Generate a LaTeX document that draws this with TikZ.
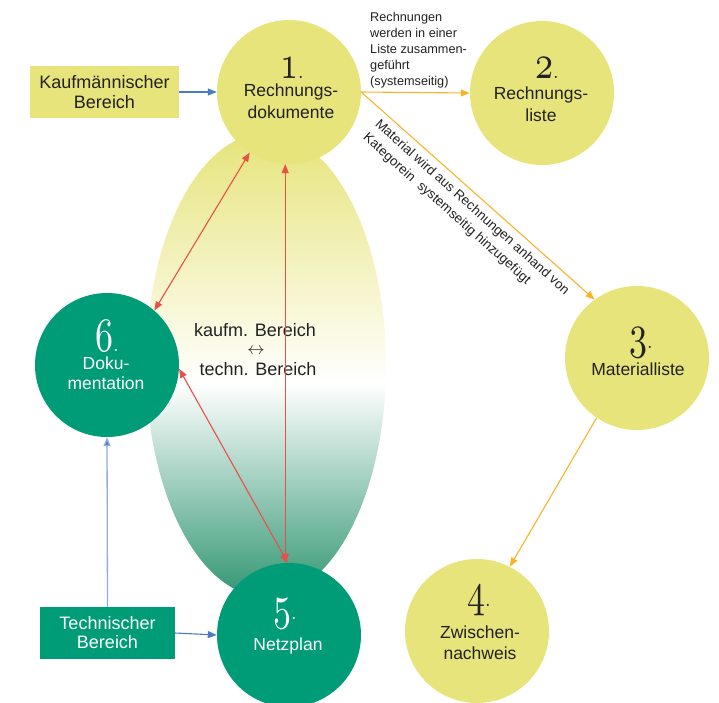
\documentclass[tikz,border=0pt]{standalone}
\usepackage{fontspec}
\setmainfont{Liberation Sans}
\usepackage{graphicx}
\usetikzlibrary{arrows.meta}
\definecolor{ylw}{RGB}{230,228,122}
\definecolor{grn}{RGB}{0,155,119}
\definecolor{grnE}{RGB}{50,150,115}
\definecolor{redA}{RGB}{232,80,74}
\definecolor{orA}{RGB}{247,180,40}
\definecolor{bluA}{RGB}{74,124,196}
\definecolor{bluB}{RGB}{140,174,224}
\definecolor{txt}{RGB}{34,34,34}
\newcommand\onum[1]{\scalebox{3.6}[4.8]{\fontsize{10}{10}\usefont{OML}{cmm}{m}{it}#1}\scalebox{2}{\fontsize{10}{10}\usefont{OML}{cmm}{m}{it}\char58}}
\pgfdeclareverticalshading{ellshade}{100bp}{color(0bp)=(grnE); color(25bp)=(grnE); color(48bp)=(white); color(75bp)=(ylw); color(100bp)=(ylw)}
\begin{document}
\begin{tikzpicture}[x=1pt,y=-1pt,
  ycirc/.style={circle,fill=ylw,minimum size=144pt,inner sep=0pt},
  gcirc/.style={circle,fill=grn,minimum size=144pt,inner sep=0pt},
  numtxt/.style={inner sep=0pt,anchor=base,text=txt},
  wnumtxt/.style={numtxt,text=white},
  lbl/.style={inner sep=0pt,anchor=base,text=txt,font=\fontsize{17.5}{21}\selectfont},
  wlbl/.style={lbl,text=white},
  boxy/.style={rectangle,fill=ylw,inner sep=0pt,align=center,text=txt,font=\fontsize{18}{20}\selectfont},
  boxg/.style={rectangle,fill=grn,inner sep=0pt,align=center,text=white,font=\fontsize{18}{19}\selectfont},
  redarr/.style={draw=redA,line width=1.1pt,{Triangle[length=9pt,width=7pt]}-{Triangle[length=9pt,width=7pt]}},
  orarr/.style={draw=orA,line width=1.1pt,-{Triangle[length=9pt,width=7pt]}},
  bluarr/.style={draw=bluA,line width=1.1pt,-{Triangle[length=9pt,width=7pt]}},
  bluarrB/.style={draw=bluB,line width=1.3pt,-{Triangle[length=9pt,width=7pt,fill=bluA]}},
  small/.style={inner sep=0pt,text=txt,align=left,font=\fontsize{12.7}{16}\selectfont}
]
\useasboundingbox (0,0) rectangle (719,702);
% central shaded ellipse
\shade[shading=ellshade] (266,365) ellipse [x radius=120, y radius=232];

% circles
\node[ycirc] (c1) at (289,92) {};
\node[ycirc] (c2) at (542,93) {};
\node[ycirc] (c3) at (637,358) {};
\node[ycirc] (c4) at (477,631) {};
\node[gcirc] (c6) at (107,365) {};
\node[gcirc] (c5) at (289,635) {};

% numbers
\node[numtxt] (n1) at (292,78) {\onum{1}};
\node[numtxt] (n2) at (547,78) {\onum{2}};
\node[numtxt] (n3) at (641,348) {\onum{3}};
\node[numtxt] (n4) at (479,606) {\onum{4}};
\node[wnumtxt] (n6) at (107,351) {\onum{6}};
\node[wnumtxt] (n5) at (285,619) {\onum{5}};

% circle labels
\node[lbl] (t1a) at (291,96) {Rechnungs-};
\node[lbl] (t1b) at (291,118) {dokumente};
\node[lbl] (t2a) at (541,99) {Rechnungs-};
\node[lbl] (t2b) at (541,121) {liste};
\node[lbl] (t3a) at (638,375) {Materialliste};
\node[lbl] (t4a) at (480,638) {Zwischen-};
\node[lbl] (t4b) at (480,659) {nachweis};
\node[wlbl] (t6a) at (106,369) {Doku-};
\node[wlbl] (t6b) at (106,389) {mentation};
\node[wlbl] (t5a) at (288,650) {Netzplan};

% centre text
\node[lbl,font=\fontsize{18}{21}\selectfont] (k1) at (255,336) {kaufm. Bereich};
\node[inner sep=0pt,text=txt,font=\fontsize{17}{17}\selectfont] (k2) at (256,351) {$\leftrightarrow$};
\node[lbl,font=\fontsize{18}{21}\selectfont] (k3) at (258,375) {techn. Bereich};

% boxes
\node[boxy,minimum width=149pt,minimum height=52pt] (kb) at (104.5,92) {Kaufmännischer\\Bereich};
\node[boxg,minimum width=135pt,minimum height=52pt] (tb) at (107.5,633) {Technischer\\Bereich};

% connectors
\draw[bluarr] (kb.east) -- (c1.west);
\draw[bluarr] (tb.east) -- (c5.west);
\draw[bluarrB] (tb.north) -- (c6.south);

\draw[orarr] (c1.east) -- (c2.west);
\draw[orarr] (c1.east) -- (c3.126);
\draw[orarr] (c3.236) -- (c4.63);

\draw[redarr] (c1.237) -- (c6.49);
\draw[redarr] (c1.267) -- (c5.93);
\draw[redarr] (c6.357) -- (c5.91);

% small labels
\node[small,anchor=north west] (s1) at (370,12) {Rechnungen\\werden in einer\\Liste zusammen-\\geführt\\(systemseitig)};
\node[small,anchor=north west,rotate=-41.7,font=\fontsize{13.4}{18}\selectfont] (s2) at (381,118) {Material wird aus Rechnungen anhand von\\Kategorein\ \ systemseitig hinzugefügt};
\end{tikzpicture}
\end{document}
